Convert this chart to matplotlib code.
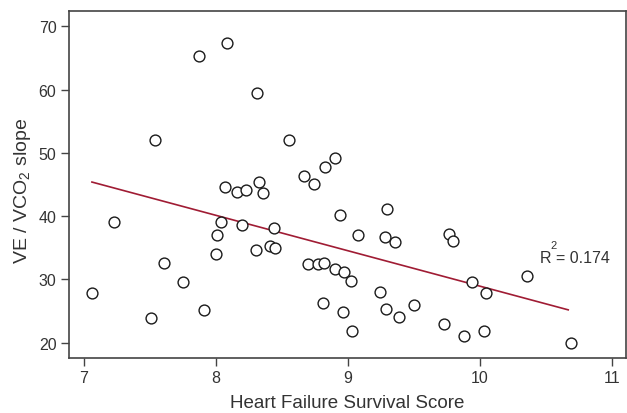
import numpy as np
import matplotlib
matplotlib.use("Agg")
import matplotlib.pyplot as plt

plt.rcParams['font.family'] = ['Liberation Sans', 'DejaVu Sans']

# Heart failure survival score vs VE/VCO2 slope
hfss = [7.06, 7.23, 7.51, 7.54, 7.61, 7.75, 7.87, 7.91, 8.00, 8.01,
        8.04, 8.07, 8.08, 8.16, 8.20, 8.23, 8.30, 8.31, 8.33, 8.36,
        8.41, 8.44, 8.45, 8.55, 8.67, 8.70, 8.74, 8.77, 8.82, 8.81,
        8.83, 8.90, 8.90, 8.94, 8.96, 8.97, 9.02, 9.03, 9.08, 9.24,
        9.28, 9.30, 9.29, 9.36, 9.39, 9.50, 9.73, 9.77, 9.80, 9.88,
        9.94, 10.03, 10.05, 10.36, 10.69]
ve_vco2 = [27.8, 39.1, 23.9, 52.1, 32.6, 29.6, 65.3, 25.2, 34.0, 37.1,
           39.1, 44.6, 67.3, 43.8, 38.6, 44.2, 34.6, 59.5, 45.4, 43.7,
           35.3, 38.2, 34.9, 52.0, 46.3, 32.5, 45.1, 32.5, 32.6, 26.3,
           47.8, 31.7, 49.2, 40.2, 24.9, 31.2, 29.8, 21.9, 37.1, 28.0,
           36.7, 41.2, 25.4, 35.9, 24.0, 26.0, 22.9, 37.2, 36.1, 21.1,
           29.6, 21.8, 27.9, 30.5, 20.0]

# fitted regression line endpoints and R squared
fit_x = [7.06, 10.67]
fit_y = [45.4, 25.2]
r_squared = 0.174

x_ticks = [7, 8, 9, 10, 11]
y_ticks = [20, 30, 40, 50, 60, 70]

fig = plt.figure(figsize=(6.27, 4.14), dpi=100)
ax = fig.add_axes([0.110, 0.133, 0.888, 0.839])

ax.plot(fit_x, fit_y, color='#A01C34', lw=1.2, zorder=2)
ax.plot(hfss, ve_vco2, 'o', ms=7.8, mfc='white', mec='#1a1a1a', mew=1.0, zorder=3)

ax.set_xlim(6.886, 11.106)
ax.set_ylim(17.6, 72.5)
ax.set_xticks(x_ticks)
ax.set_yticks(y_ticks)

text_color = '#333333'
for side in ['left', 'bottom', 'top', 'right']:
    ax.spines[side].set_color('#444444')
    ax.spines[side].set_linewidth(1.2)
ax.tick_params(direction='out', length=6, width=1.0, color='#444444',
               labelsize=11.5, labelcolor=text_color, pad=3)

ax.set_xlabel('Heart Failure Survival Score', fontsize=13.5, color=text_color, labelpad=6)
ax.set_ylabel('VE / VCO$_\\mathregular{2}$ slope', fontsize=14, color=text_color)
ax.yaxis.set_label_coords(-0.064, 0.484)

ax.text(10.455, 32.8, 'R = {:.3f}'.format(r_squared),
        fontsize=11.5, color=text_color, ha='left', va='baseline')
ax.text(10.535, 34.9, '2', fontsize=8, color=text_color, ha='left', va='baseline')

fig.savefig('out.png', dpi=100)
